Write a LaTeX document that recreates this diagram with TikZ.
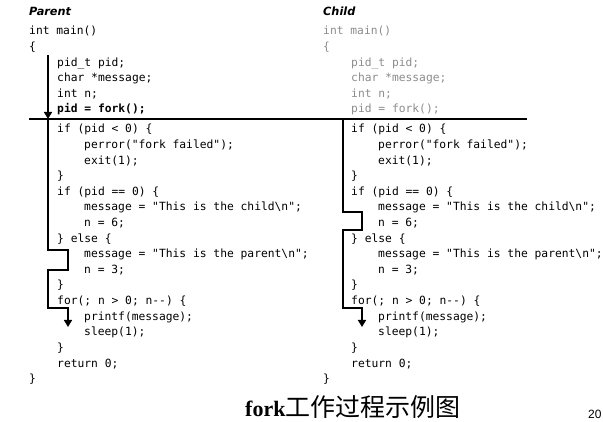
\documentclass[tikz,border=0pt]{standalone}
\usepackage{fontspec}
\usepackage{tikz}
\usetikzlibrary{arrows.meta}
\setmainfont{Liberation Serif}
\newfontfamily\codefont{DejaVu Sans Mono}
\newfontfamily\headfont{DejaVu Sans}
\newfontfamily\cjk{Noto Sans CJK SC}
\newfontfamily\pagefont{Liberation Sans}
\definecolor{fadedcode}{gray}{0.55}
\tikzset{%
  code/.style={anchor=base west, inner sep=0pt, font=\codefont\fontsize{11.3}{15.6}\selectfont}, % one line of the listing
  head/.style={anchor=base west, inner sep=0pt, font=\headfont\bfseries\itshape\fontsize{11.3}{14}\selectfont},
  flow/.style={draw, line width=1.6pt, line join=miter},
  flowend/.style={flow, -{Triangle[width=8pt,length=7pt]}},
  divider/.style={draw, line width=1.3pt}
}

\begin{document}
\begin{tikzpicture}[x=1pt, y=1pt]
    \useasboundingbox (0,0) rectangle (603,-422);

    % parent side, before the fork
    \node[head] (phead) at (29,-16) {Parent};
    \node[code] (p0) at (29,-35) {int main()};
    \node[code] (p1) at (29,-50.6) {\{};
    \node[code] (p2) at (57,-66.2) {pid\_t pid;};
    \node[code] (p3) at (57,-81.8) {char *message;};
    \node[code] (p4) at (57,-97.4) {int n;};
    \node[code, font=\codefont\bfseries\fontsize{11.3}{15.6}\selectfont] (p5) at (57,-113) {pid = fork();};

    % child side, before the fork
    \node[head] (chead) at (323,-16) {Child};
    \node[code, fadedcode] (c0) at (323,-35) {int main()};
    \node[code, fadedcode] (c1) at (323,-50.6) {\{};
    \node[code, fadedcode] (c2) at (351,-66.2) {pid\_t pid;};
    \node[code, fadedcode] (c3) at (351,-81.8) {char *message;};
    \node[code, fadedcode] (c4) at (351,-97.4) {int n;};
    \node[code, fadedcode] (c5) at (351,-113) {pid = fork();};

    % after the fork both sides run the same code
    \foreach \side/\dx in {p/0, c/294}{
      \node[code] (\side6) at (57+\dx,-133) {if (pid < 0) \{};
      \node[code] (\side7) at (84+\dx,-148.6) {perror("fork failed");};
      \node[code] (\side8) at (84+\dx,-164.2) {exit(1);};
      \node[code] (\side9) at (57+\dx,-179.8) {\}};
      \node[code] (\side10) at (57+\dx,-195.4) {if (pid == 0) \{};
      \node[code] (\side11) at (84+\dx,-211) {message = "This is the child\textbackslash n";};
      \node[code] (\side12) at (84+\dx,-226.6) {n = 6;};
      \node[code] (\side13) at (57+\dx,-242.2) {\} else \{};
      \node[code] (\side14) at (84+\dx,-257.8) {message = "This is the parent\textbackslash n";};
      \node[code] (\side15) at (84+\dx,-273.4) {n = 3;};
      \node[code] (\side16) at (57+\dx,-289) {\}};
      \node[code] (\side17) at (57+\dx,-304.6) {for(; n > 0; n-{}-) \{};
      \node[code] (\side18) at (84+\dx,-320.2) {printf(message);};
      \node[code] (\side19) at (84+\dx,-335.8) {sleep(1);};
      \node[code] (\side20) at (57+\dx,-351.4) {\}};
      \node[code] (\side21) at (57+\dx,-367) {return 0;};
      \node[code] (\side22) at (29+\dx,-382.6) {\}};
    }

    % the fork line
    \coordinate (divL) at (29,-119);
    \coordinate (divR) at (527,-119);
    \draw[divider] (divL) -- (divR);

    % path taken by the parent
    \coordinate (pstart) at (48,-55);
    \coordinate (pfork) at (48,-119);
    \coordinate (pend) at (68,-327);
    \draw[flowend] (pstart) -- (pfork);
    \draw[flowend] (pfork) -- ++(0,-131) -- ++(20,0) -- ++(0,-20) -- ++(-20,0)
        -- ++(0,-38) -- ++(20,0) -- (pend);

    % path taken by the child
    \coordinate (cfork) at (343,-119);
    \coordinate (cend) at (362,-327);
    \draw[flowend] (cfork) -- ++(0,-93) -- ++(19,0) -- ++(0,-18) -- ++(-19,0)
        -- ++(0,-78) -- ++(19,0) -- (cend);

    % caption and page number
    \node[anchor=base west, inner sep=0pt] (caption) at (245,-416)
        {\fontsize{22}{24}\selectfont\bfseries fork{\cjk\mdseries\fontsize{25}{27}\selectfont 工作过程示例图}};
    \node[anchor=base west, inner sep=0pt, font=\pagefont\fontsize{12}{14}\selectfont] (page) at (588,-418) {20};
\end{tikzpicture}
\end{document}
